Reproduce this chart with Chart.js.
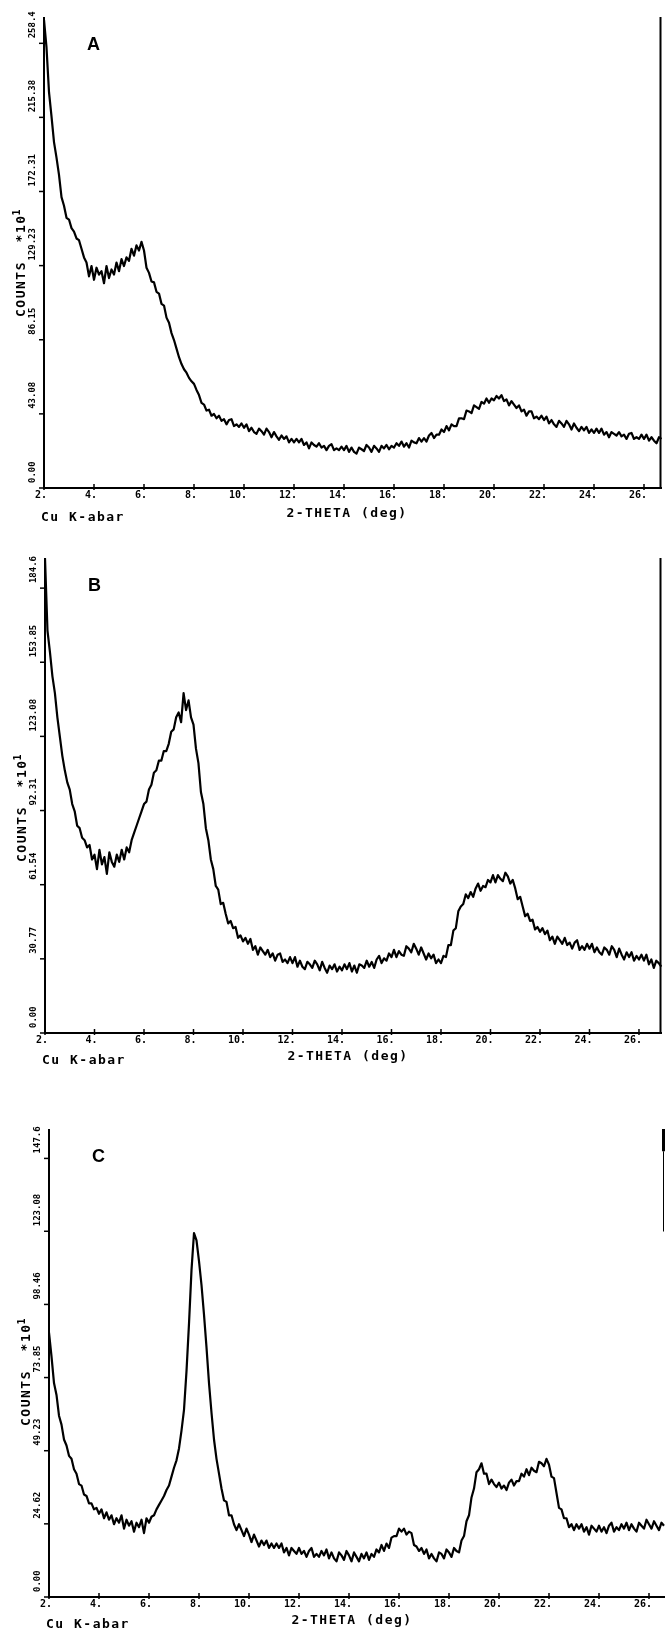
<!DOCTYPE html>
<html lang="en">
<head>
<meta charset="UTF-8">
<title>Diffractograms A, B, C</title>
<style>
  html, body { margin: 0; padding: 0; background: #fff; }
  #wrap { position: relative; width: 665px; height: 1633px; overflow: hidden; }
  #wrap canvas { position: absolute; left: 0; }
</style>
<script src="https://cdn.jsdelivr.net/npm/chart.js@4.4.0/dist/chart.umd.min.js"></script>
</head>
<body>
<div id="wrap">
  <canvas id="chartA" width="665" height="545" style="top:0px"></canvas>
  <canvas id="chartB" width="665" height="545" style="top:545px"></canvas>
  <canvas id="chartC" width="665" height="543" style="top:1090px"></canvas>
</div>
<script>
// scans are sampled every 0.1 deg from 2 deg on
const thetaStart = 2.0;
const thetaStep = 0.1;

// counts (x10) per step, one row per degree
const countsA = [
  272, 256, 230, 216, 201, 192, 182, 169, 164, 157,
  156, 151, 149, 145, 144, 139, 134, 131, 123, 129,
  121, 128, 124, 126, 119, 129, 122, 127, 124, 131,
  126, 133, 129, 134, 132, 139, 135, 141, 138, 143,
  138, 128, 125, 120, 119.5, 114, 113, 107, 106, 99,
  96, 90, 86, 81, 76, 72, 69, 67, 64, 62,
  60.5, 57, 54, 49.5, 48.5, 45, 45.5, 42, 43, 40.5,
  42, 39, 40, 37, 39.5, 40, 36, 37, 35.5, 37.5,
  35, 37, 33, 35, 32.5, 31.5, 34.5, 33, 31, 34.5,
  32.5, 29.5, 32.5, 30, 28, 30.5, 28.5, 30, 26.5, 28.5,
  26.5, 28.5, 26.5, 28.5, 25, 26.5, 23, 26.5, 25, 24,
  26, 23.5, 24.5, 22, 24.5, 25.5, 22, 23, 22, 24,
  22, 24.5, 21, 23.5, 21, 20, 23.5, 22.5, 21.5, 25,
  23.5, 21, 24.5, 23, 21, 24.5, 23, 25, 22.5, 24.5,
  23.5, 26, 24.5, 27, 24, 26, 23.5, 27.5, 26.5, 26,
  29, 27, 29, 27, 30.5, 32, 29, 31, 31, 34,
  32.5, 36, 33.5, 37, 36, 36, 40.5, 40.5, 40, 45,
  44.5, 43.5, 48, 47, 46, 50, 49, 52, 49.5, 52,
  51, 53.5, 52, 54, 50.5, 51.5, 48, 50.5, 48.5, 46.5,
  48, 44.5, 45.5, 42, 44.5, 44.5, 40.5, 41.5, 40, 42,
  39.5, 41.5, 37.5, 39.5, 37, 35.5, 39, 37.5, 35.5, 39,
  37, 34, 37.5, 35, 33, 35.5, 33.5, 35.5, 32, 34,
  32, 34.5, 32, 34.5, 31, 32.5, 29.5, 32.5, 31.5, 30.5,
  32.5, 30, 31, 28.5, 31.5, 32, 28.5, 29.5, 28.5, 31,
  28.5, 31, 27.5, 29.5, 27.5, 26, 29.5, 28.5
];

const countsB = [
  197, 167, 158, 148, 141, 131, 123, 115, 109, 104,
  101, 95, 92, 86, 85, 81, 80, 77, 78, 72,
  74, 68, 76, 70, 73, 66, 75, 71, 69, 74,
  71, 76, 72, 77, 75, 80, 83, 86, 89, 92,
  95, 96, 101, 103, 108, 109, 113, 113, 117, 117,
  120, 125, 126, 131, 133, 129, 141, 134, 138, 131,
  128, 118, 112, 100, 95, 85, 80, 72, 68, 61,
  59.5, 53.5, 54, 49.5, 45.5, 46.5, 43.5, 44, 39.5, 40.5,
  38, 39.5, 37, 39, 34.5, 36, 32.5, 35.5, 34, 32.5,
  34.5, 31.5, 33, 30, 32.5, 33, 29.5, 30.5, 29, 31.5,
  29, 31.5, 27.5, 30, 27.5, 26.5, 29.5, 28.5, 27, 30,
  28.5, 26, 29.5, 27, 25, 28, 26.5, 28.5, 25.5, 27.5,
  26, 28.5, 26.5, 29, 25.5, 28, 25, 28.5, 28, 27,
  30, 27.5, 29.5, 27, 30.5, 32, 29, 31, 30, 33,
  31.5, 34.5, 31.5, 34, 32.5, 32, 36, 35, 33.5, 37,
  35, 32.5, 35.5, 33, 30.5, 33, 31, 32.5, 29, 30.5,
  29, 32, 31.5, 36.5, 36.5, 42.5, 43.5, 50.5, 52.5, 53.5,
  57.5, 56, 58.5, 56.5, 60, 62, 59, 61, 60.5, 63.5,
  62.5, 65.5, 62.5, 65.5, 64, 63, 66.5, 65, 62, 63.5,
  60, 55.5, 56.5, 52.5, 48.5, 49.5, 46.5, 47, 43, 44,
  42, 43.5, 41, 42.5, 38.5, 40, 37, 40, 38.5, 37,
  39.5, 36.5, 37.5, 35, 37.5, 38.5, 34.5, 36, 34.5, 37,
  35, 37, 33.5, 35.5, 33.5, 32.5, 35.5, 34.5, 32.5, 36,
  34.5, 31.5, 35, 32.5, 30.5, 33.5, 31.5, 33.5, 30, 32,
  30.5, 32.5, 30, 32.5, 28.5, 30.5, 27, 30, 29, 27.5
];

const countsC = [
  89, 81, 72, 68, 61, 58, 53, 51, 47.5, 46.5,
  43, 41.5, 38, 37.5, 34.5, 34, 31.5, 31.5, 29.5, 30,
  28, 29.5, 26.5, 28.5, 26, 27.5, 24.5, 26.5, 25, 27.5,
  23, 26, 24, 25.5, 22, 25, 23.5, 26, 21.5, 26.5,
  25, 27, 27.5, 29.5, 31, 32.5, 34, 36, 37.5, 40.5,
  43.5, 46, 50, 56, 63, 76, 92, 110, 122.5, 120,
  113, 105, 95, 84, 72, 62, 53, 46.5, 41.5, 36.5,
  32.5, 32, 27.5, 27.5, 24.5, 22.5, 24.5, 22.5, 20.5, 23,
  21, 18.5, 21, 19, 17, 19, 17.5, 19, 16.5, 18,
  16.5, 18, 16.5, 18, 15, 16.5, 14, 16.5, 15.5, 14.5,
  16.5, 14.5, 15.5, 13.5, 15.5, 16.5, 13.5, 14.5, 13.5, 15.5,
  14, 16, 13, 15, 13, 12, 15, 14, 12.5, 15.5,
  14, 12, 15, 13.5, 12, 14.5, 13, 15, 12.5, 14.5,
  13.5, 16, 15, 17.5, 15.5, 18, 16.5, 20, 20.5, 20.5,
  23, 22, 23, 21, 22, 21.5, 17.5, 17, 15.5, 16.5,
  14.5, 16, 13, 14.5, 13, 12, 15, 14.5, 13, 16,
  15, 13.5, 16.5, 15.5, 15, 19, 20.5, 25.5, 27.5, 33.5,
  36.5, 42, 43, 45, 41.5, 41.5, 38, 39.5, 38, 37,
  38.5, 36.5, 37.5, 36, 38.5, 39.5, 37.5, 39, 39, 41.5,
  40.5, 43, 41, 43.5, 42.5, 42, 45.5, 45, 44, 46.5,
  44.5, 40.5, 40, 35, 30, 29.5, 26.5, 26.5, 23.5, 24.5,
  22.5, 24.5, 23, 24.5, 22, 23.5, 21, 24, 23, 22,
  24, 22, 23.5, 21.5, 24, 25, 22, 23.5, 22.5, 24.5,
  23, 25, 22.5, 24.5, 23, 22, 25, 24, 23, 26,
  24.5, 23, 25.5, 24, 22.5, 25, 24
];

const xTickLabels = ['2.', '4.', '6.', '8.', '10.', '12.', '14.', '16.', '18.', '20.', '22.', '24.', '26.'];
const yTickLabelsA = ['0.00', '43.08', '86.15', '129.23', '172.31', '215.38', '258.4'];
const yTickLabelsB = ['0.00', '30.77', '61.54', '92.31', '123.08', '153.85', '184.6'];
const yTickLabelsC = ['0.00', '24.62', '49.23', '73.85', '98.46', '123.08', '147.6'];

const MONO = '"DejaVu Sans Mono", monospace';

function toPoints(counts) {
  return counts.map((c, i) => ({ x: thetaStart + i * thetaStep, y: c }));
}

// old pen-plotter style frame: axes, crossing ticks, rotated y labels
const plotterAxes = {
  id: 'plotterAxes',
  afterDatasetsDraw(chart, args, o) {
    const { ctx, chartArea: a, scales: { x, y } } = chart;
    ctx.save();
    ctx.strokeStyle = '#000';
    ctx.fillStyle = '#000';
    ctx.lineCap = 'butt';

    ctx.lineWidth = 2;
    ctx.beginPath();
    ctx.moveTo(a.left, a.top);
    ctx.lineTo(a.left, a.bottom);
    ctx.lineTo(a.right, a.bottom);
    ctx.stroke();

    // right frame edge: heavy part, then a thin trace
    ctx.lineWidth = o.frameHeavy ? 3 : 2;
    ctx.beginPath();
    ctx.moveTo(a.right - 1.5, a.top);
    ctx.lineTo(a.right - 1.5, y.getPixelForValue(o.frameHeavyTo));
    ctx.stroke();
    ctx.lineWidth = 1;
    ctx.beginPath();
    ctx.moveTo(a.right - 1.5, y.getPixelForValue(o.frameHeavyTo));
    ctx.lineTo(a.right - 1.5, y.getPixelForValue(o.rightFrameTo));
    ctx.stroke();

    // y ticks and labels
    ctx.lineWidth = 1.5;
    ctx.font = 'bold 9px ' + MONO;
    ctx.textAlign = 'left';
    ctx.textBaseline = 'middle';
    o.yLabels.forEach(lbl => {
      const py = y.getPixelForValue(parseFloat(lbl));
      ctx.beginPath();
      ctx.moveTo(a.left - 5, py);
      ctx.lineTo(a.left + 1, py);
      ctx.stroke();
      ctx.save();
      ctx.translate(a.left - 11.5, py - 5);
      ctx.rotate(-Math.PI / 2);
      ctx.fillText(lbl, 0, 0);
      ctx.restore();
    });

    // x ticks and labels
    ctx.font = 'bold 10px ' + MONO;
    ctx.textAlign = 'right';
    ctx.textBaseline = 'top';
    xTickLabels.forEach(lbl => {
      const px = x.getPixelForValue(parseFloat(lbl));
      ctx.beginPath();
      ctx.moveTo(px, a.bottom - 4);
      ctx.lineTo(px, a.bottom + 2);
      ctx.stroke();
      ctx.fillText(lbl, px + 3, a.bottom + 2);
    });

    // axis titles
    ctx.font = 'bold 13px ' + MONO;
    ctx.letterSpacing = '1.5px';
    ctx.textBaseline = 'middle';
    ctx.textAlign = 'center';
    ctx.fillText('2-THETA (deg)', a.left + 303, a.bottom + o.titleDy);
    ctx.textAlign = 'left';
    ctx.fillText('Cu K-abar', a.left - 3, a.bottom + o.titleDy + 4);

    ctx.save();
    ctx.translate(a.left - 22, a.bottom - 171);
    ctx.rotate(-Math.PI / 2);
    ctx.fillText('COUNTS  *10', 0, 0);
    const w = ctx.measureText('COUNTS  *10').width;
    ctx.font = 'bold 10px ' + MONO;
    ctx.fillText('1', w - 1, -5);
    ctx.restore();
    ctx.letterSpacing = '0px';

    // panel letter
    ctx.font = 'bold 18px "Liberation Sans", Arial, sans-serif';
    ctx.textAlign = 'left';
    ctx.textBaseline = 'top';
    ctx.fillText(o.letter, a.left + 43, a.top + 19);
    ctx.restore();
  }
};

function makeChart(id, counts, yLabels, cfg) {
  return new Chart(document.getElementById(id), {
    type: 'line',
    data: {
      datasets: [{
        data: toPoints(counts),
        borderColor: '#000',
        borderWidth: 2.2,
        borderJoinStyle: 'round',
        pointRadius: 0,
        tension: 0
      }]
    },
    options: {
      responsive: false,
      animation: false,
      devicePixelRatio: 1,
      layout: { padding: cfg.padding },
      scales: {
        x: { type: 'linear', min: 2, max: cfg.xMax, display: false },
        y: { type: 'linear', min: 0, max: cfg.yMax, display: false }
      },
      plugins: {
        legend: { display: false },
        tooltip: { enabled: false },
        plotterAxes: {
          letter: cfg.letter, yLabels: yLabels, titleDy: cfg.titleDy,
          frameHeavy: cfg.frameHeavy, frameHeavyTo: cfg.frameHeavyTo, rightFrameTo: cfg.rightFrameTo
        }
      }
    },
    plugins: [plotterAxes]
  });
}

makeChart('chartA', countsA, yTickLabelsA, {
  letter: 'A', xMax: 26.72, yMax: 273.7, titleDy: 26,
  frameHeavy: false, frameHeavyTo: 0, rightFrameTo: 0,
  padding: { left: 44, top: 17, right: 3, bottom: 57 }
});
makeChart('chartB', countsB, yTickLabelsB, {
  letter: 'B', xMax: 26.93, yMax: 197.1, titleDy: 24,
  frameHeavy: false, frameHeavyTo: 0, rightFrameTo: 0,
  padding: { left: 45, top: 13, right: 3, bottom: 57 }
});
makeChart('chartC', countsC, yTickLabelsC, {
  letter: 'C', xMax: 26.64, yMax: 157.5, titleDy: 24,
  frameHeavy: true, frameHeavyTo: 150, rightFrameTo: 123,
  padding: { left: 49, top: 39, right: 0, bottom: 36 }
});
</script>
</body>
</html>
